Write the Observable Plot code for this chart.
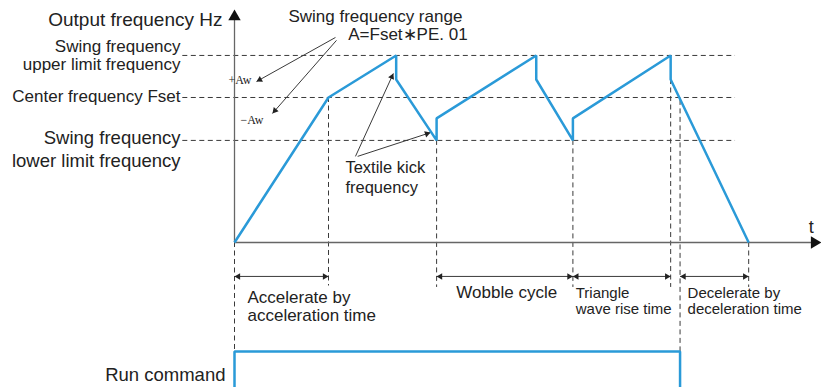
<!DOCTYPE html>
<html>
<head>
<meta charset="utf-8">
<script src="https://cdn.jsdelivr.net/npm/d3@7"></script>
<script src="https://cdn.jsdelivr.net/npm/@observablehq/plot@0.6"></script>
<style>
  html, body { margin: 0; padding: 0; background: #fff; }
  svg { display: block; }
</style>
</head>
<body>
<div id="chart"></div>
<script>
// ---- data (time in s, frequency in Hz, arbitrary diagram units) ----
const waveT = [0, 10, 17.2, 17.2, 21.5, 21.5, 32.1, 32.1, 36.0, 36.0, 46.4, 46.4, 54.7];
const waveF = [0, 50, 64.5, 56.2, 35.2, 42.8, 64.5, 56.2, 35.2, 42.8, 64.5, 56.2, 0];

const levelNames = ["upper", "center", "lower"];
const levelF = [64.5, 50, 35.2];

const runT = [0, 0, 47.4, 47.4];
const runF = [-50, -37.6, -37.6, -50];

const guideT = [0, 10, 21.5, 36.0, 46.4, 47.4, 54.7];
const guideTop = [0, 50, 35.2, 35.2, 56.2, 49, 0];
const guideBottom = [-37.6, -15, -15.5, -15.5, -15.5, -37.6, -15.5];

const spanStart = [0, 21.5, 36.0, 47.4];
const spanEnd = [10, 36.0, 46.4, 54.7];
const spanF = -11.7;

// annotation arrows: from (t1,f1) to (t2,f2)
const noteT1 = [10.74, 10.85, 12.87, 13.1];
const noteF1 = [70.7, 69.7, 29.7, 29.7];
const noteT2 = [2.34, 4.04, 16.9, 20.85];
const noteF2 = [55.5, 44.5, 58.3, 37.9];

// labels
const leftLabels = ["Output frequency Hz", "Swing frequency", "upper limit frequency", "Center frequency Fset", "Swing frequency", "lower limit frequency", "Run command"];
const leftT = [-1.28, -5.74, -5.74, -5.74, -5.74, -5.74, -0.96];
const leftF = [74.5, 65.8, 59.5, 48.3, 34.1, 25.9, -47.9];
const leftSize = [19, 17, 17, 17, 18.5, 18.5, 18.5];

const startLabels = ["Swing frequency range", "A=Fset\u2217PE. 01", "Textile kick", "frequency", "Accelerate by", "acceleration time", "Wobble cycle", "Triangle", "wave rise time", "Decelerate by", "deceleration time", "t"];
const startT = [5.74, 12.1, 11.8, 11.8, 1.38, 1.38, 23.6, 36.3, 36.3, 48.2, 48.2, 61.1];
const startF = [75.9, 69.7, 23.8, 16.9, -20.7, -27.2, -19.3, -19.0, -24.5, -19.0, -24.5, 3.4];
const startSize = [17, 17, 16.5, 16.5, 17, 17, 17, 15, 15, 15, 15, 18];

const awLabels = ["+Aw", "\u2212Aw"];
const awT = [-0.64, 0.64];
const awF = [54.8, 41.0];

// ---- build tables ----
const xDomain = [-24.894, 62.447];
const yDomain = [-50, 83.448];
const W = 821, H = 387;
const kx = W / (xDomain[1] - xDomain[0]);
const ky = H / (yDomain[1] - yDomain[0]);
const headR = 2.4;
const tipDist = 2 * Math.sqrt((headR * headR * Math.PI) / (3 * Math.sqrt(3)));
function head(x1, y1, x2, y2) {
  const dxp = (x2 - x1) * kx, dyp = -(y2 - y1) * ky;
  const len = Math.hypot(dxp, dyp);
  const ux = dxp / len, uy = dyp / len;
  return {t: x2 - ux * tipDist / kx, f: y2 + uy * tipDist / ky, rot: Math.atan2(ux, -uy) * 180 / Math.PI};
}

const wave = waveT.map((t, i) => ({t, f: waveF[i]}));
const run = runT.map((t, i) => ({t, f: runF[i]}));
const levels = levelF.map((f, i) => ({name: levelNames[i], f}));
const guides = guideT.map((t, i) => ({t, top: guideTop[i], bottom: guideBottom[i]}));
const spans = spanStart.map((s, i) => ({x1: s, x2: spanEnd[i], y1: spanF, y2: spanF}));
const notes = noteT1.map((t, i) => ({x1: t, y1: noteF1[i], x2: noteT2[i], y2: noteF2[i]}));
const heads = [
  ...spans.flatMap(s => [head(s.x2, s.y1, s.x1, s.y1), head(s.x1, s.y1, s.x2, s.y2)]),
  ...notes.map(n => head(n.x1, n.y1, n.x2, n.y2))
];
const lefts = leftLabels.map((text, i) => ({text, t: leftT[i], f: leftF[i], size: leftSize[i]}));
const starts = startLabels.map((text, i) => ({text, t: startT[i], f: startF[i], size: startSize[i]}));
const aws = awLabels.map((text, i) => ({text, t: awT[i], f: awF[i]}));

const blue = "#2a9ad8";
const dark = "#3a3a3a";

const chart = Plot.plot({
  width: W,
  height: H,
  margin: 0,
  x: {domain: xDomain, axis: null},
  y: {domain: yDomain, axis: null},
  style: {fontFamily: "'Liberation Sans', Arial, sans-serif", background: "#fff", color: "#222"},
  marks: [
    Plot.ruleY(levels, {y: "f", x1: -5.5, x2: 53.3, stroke: dark, strokeWidth: 1, strokeDasharray: "5,3.5"}),
    Plot.ruleX(guides, {x: "t", y1: "top", y2: "bottom", stroke: dark, strokeWidth: 1, strokeDasharray: "5,3.5"}),
    Plot.ruleY([0], {x1: 0, x2: 61.5, stroke: "#666", strokeWidth: 1.3}),
    Plot.ruleX([0], {y1: 0, y2: 78, stroke: "#666", strokeWidth: 1.3}),
    Plot.dot([{t: 61.7, f: 0}], {x: "t", y: "f", symbol: "triangle", r: 4.6, fill: "#111", stroke: null, rotate: 90}),
    Plot.dot([{t: 0, f: 77.9}], {x: "t", y: "f", symbol: "triangle", r: 4.6, fill: "#111", stroke: null, rotate: 0}),
    Plot.link(spans, {x1: "x1", x2: "x2", y1: "y1", y2: "y2", stroke: dark, strokeWidth: 1}),
    Plot.link(notes, {x1: "x1", y1: "y1", x2: "x2", y2: "y2", stroke: dark, strokeWidth: 1}),
    Plot.dot(heads, {x: "t", y: "f", symbol: "triangle", r: headR, rotate: "rot", fill: "#222", stroke: null}),
    Plot.line(wave, {x: "t", y: "f", stroke: blue, strokeWidth: 2.5, strokeLinejoin: "miter", strokeLinecap: "butt"}),
    Plot.line(run, {x: "t", y: "f", stroke: blue, strokeWidth: 2.5, strokeLinejoin: "miter"}),
    Plot.text(lefts, {x: "t", y: "f", text: "text", fontSize: "size", textAnchor: "end", lineAnchor: "bottom", fill: "#222"}),
    Plot.text(starts, {x: "t", y: "f", text: "text", fontSize: "size", textAnchor: "start", lineAnchor: "bottom", fill: "#222"}),
    Plot.text(aws, {x: "t", y: "f", text: "text", fontSize: 12, textAnchor: "start", lineAnchor: "bottom", fill: "#222", fontFamily: "'Liberation Serif', 'Times New Roman', serif"})
  ]
});
document.getElementById("chart").appendChild(chart);
</script>
</body>
</html>
